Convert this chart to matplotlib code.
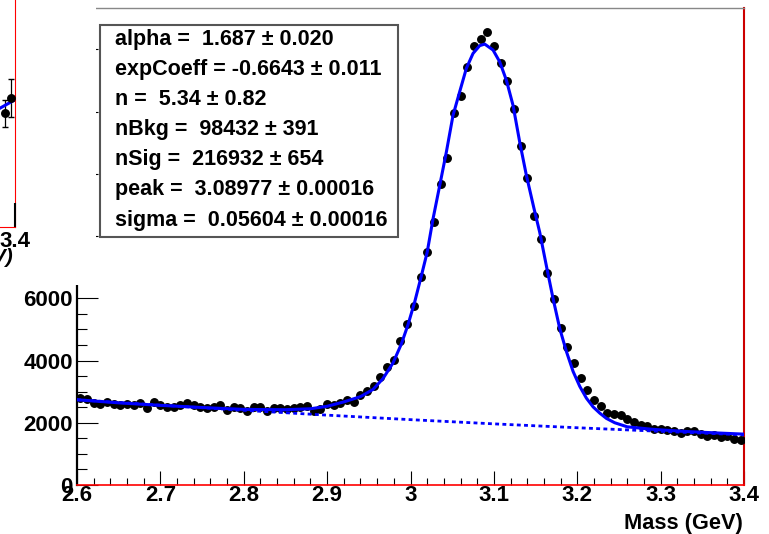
import matplotlib
matplotlib.use("Agg")
import matplotlib.pyplot as plt
from matplotlib.patches import Rectangle
from matplotlib.ticker import MultipleLocator, FixedLocator
import numpy as np

plt.rcParams['font.family'] = ['Liberation Sans', 'DejaVu Sans']
plt.rcParams['font.weight'] = 'bold'

# histogram binning (100 bins, 2.6 - 3.4 GeV)
bin_lo, bin_hi, n_bins = 2.6, 3.4, 100
counts = [
    2780, 2760, 2650, 2600, 2660, 2600, 2580, 2590, 2570, 2640,
    2490, 2660, 2560, 2520, 2500, 2580, 2620, 2570, 2500, 2470,
    2510, 2580, 2420, 2520, 2490, 2380, 2510, 2500, 2390, 2460,
    2480, 2450, 2470, 2500, 2540, 2370, 2450, 2610, 2580, 2620,
    2740, 2660, 2880, 3020, 3170, 3470, 3800, 4010, 4640, 5180,
    5750, 6690, 7480, 8440, 9660, 10510, 11960, 12510, 13420, 14120,
    14330, 14570, 14120, 13550, 12980, 12070, 10880, 9860, 8660, 7900,
    6810, 5990, 5060, 4440, 3930, 3440, 3040, 2740, 2550, 2330,
    2290, 2240, 2130, 2040, 1920, 1900, 1810, 1790, 1760, 1720,
    1680, 1720, 1720, 1650, 1590, 1610, 1530, 1560, 1480, 1460,
]

# total fit curve
fit_x = [2.60, 2.65, 2.70, 2.75, 2.80, 2.85, 2.88, 2.90, 2.92, 2.94,
         2.955, 2.967, 2.979, 2.989, 2.997, 3.005, 3.013, 3.020, 3.027, 3.035,
         3.043, 3.051, 3.059, 3.067, 3.075, 3.083, 3.089, 3.099, 3.107, 3.115,
         3.123, 3.131, 3.139, 3.148, 3.155, 3.163, 3.171, 3.179, 3.187, 3.195,
         3.203, 3.211, 3.219, 3.227, 3.235, 3.245, 3.26, 3.29, 3.33, 3.37, 3.40]
fit_y = [2740, 2640, 2560, 2490, 2430, 2420, 2450, 2530, 2670, 2840,
         3070, 3420, 3920, 4530, 5150, 5880, 6720, 7480, 8550, 9620,
         10700, 11880, 12640, 13390, 13870, 14120, 14170, 13980, 13600, 13010,
         12200, 11020, 9950, 8900, 8120, 7040, 5990, 5030, 4290, 3650,
         3170, 2790, 2510, 2310, 2140, 2000, 1870, 1790, 1720, 1670, 1635]

# background component (dotted)
bkg_x = [2.6, 2.7, 2.8, 2.9, 3.0, 3.1, 3.2, 3.3, 3.4]
bkg_y = [2740, 2565, 2400, 2245, 2100, 1965, 1840, 1725, 1612]

# fit results shown in the box
stat_lines = [
    "alpha =  1.687 \u00b1 0.020",
    "expCoeff = -0.6643 \u00b1 0.011",
    "n =  5.34 \u00b1 0.82",
    "nBkg =  98432 \u00b1 391",
    "nSig =  216932 \u00b1 654",
    "peak =  3.08977 \u00b1 0.00016",
    "sigma =  0.05604 \u00b1 0.00016",
]

# the piece of the neighbouring pad at the top left
inset_x = [3.388, 3.396]
inset_y = [1520, 1720]
inset_err = [180, 247]
inset_line_x = [3.38, 3.40]
inset_line_y = [1575, 1693]

W, H = 769, 534


def fx(px):
    return px / W


def fy(py):
    return 1 - py / H


fig = plt.figure(figsize=(W / 100, H / 100), dpi=100)
fig.patch.set_facecolor('white')

# main pad
ax = fig.add_axes([fx(77), fy(485), fx(744) - fx(77), fy(8) - fy(485)])
centers = bin_lo + (np.arange(n_bins) + 0.5) * (bin_hi - bin_lo) / n_bins
ax.plot(centers, counts, 'o', color='black', markersize=5.4, zorder=3)
ax.plot(fit_x, fit_y, color='#0000ff', lw=2.2, zorder=4)
ax.plot(bkg_x, bkg_y, color='#0000ff', lw=2.0, dashes=(1.4, 1.2), zorder=4)

ax.set_xlim(2.6, 3.4)
ax.set_ylim(0, 15330)
ax.xaxis.set_major_locator(FixedLocator([2.6, 2.7, 2.8, 2.9, 3.0, 3.1, 3.2, 3.3, 3.4]))
ax.set_xticklabels(['2.6', '2.7', '2.8', '2.9', '3', '3.1', '3.2', '3.3', '3.4'])
ax.xaxis.set_minor_locator(MultipleLocator(0.02))
ax.yaxis.set_major_locator(MultipleLocator(2000))
ax.yaxis.set_minor_locator(MultipleLocator(500))
ax.tick_params(axis='x', which='major', direction='in', length=10, width=0.8,
               labelsize=16, pad=0, colors='black')
ax.tick_params(axis='x', which='minor', direction='in', length=5, width=0.8)
ax.tick_params(axis='y', which='major', direction='in', length=15, width=0.8,
               labelsize=16, pad=3)
ax.tick_params(axis='y', which='minor', direction='in', length=7, width=0.8)
for lab in ax.get_xticklabels() + ax.get_yticklabels():
    lab.set_fontweight('bold')

ax.spines['left'].set_color('black')
ax.spines['left'].set_linewidth(1.6)
ax.spines['bottom'].set_color('#ff0000')
ax.spines['bottom'].set_linewidth(1.2)
ax.spines['right'].set_color('#cc0000')
ax.spines['right'].set_linewidth(1.5)
ax.spines['top'].set_color('#888888')
ax.spines['top'].set_linewidth(1.0)

fig.text(fx(743), fy(529), "Mass (GeV)", ha='right', va='baseline',
         fontsize=15.7, fontweight='bold')

# white area of the neighbouring pad covering the top left corner
fig.patches.append(Rectangle((0, fy(285)), fx(96), 1 - fy(285),
                             transform=fig.transFigure, facecolor='white',
                             edgecolor='none', zorder=1))

# neighbouring pad, only its right edge is visible
ins = fig.add_axes([fx(14.5 - 630), fy(227), fx(630), fx(300) * W / H], zorder=2)
ins.patch.set_alpha(0)
ins.errorbar(inset_x, inset_y, yerr=inset_err, fmt='o', color='black',
             markersize=5.4, elinewidth=0.9, capsize=2.5)
ins.plot(inset_line_x, inset_line_y, color='#0000ff', lw=2.2)
ins.set_xlim(2.6, 3.4)
ins.set_ylim(0, 4000)
ins.xaxis.set_major_locator(FixedLocator([3.4]))
ins.set_xticklabels(['3.4'])
ins.set_yticks([])
ins.tick_params(axis='x', direction='in', length=17, width=1.5, labelsize=16, pad=3)
for lab in ins.get_xticklabels():
    lab.set_fontweight('bold')
ins.spines['right'].set_color('#ff0000')
ins.spines['bottom'].set_color('#ff0000')
ins.spines['right'].set_zorder(1)
ins.spines['left'].set_visible(False)
ins.spines['top'].set_visible(False)
fig.text(fx(13), fy(263), "Mass (GeV)", ha='right', va='baseline',
         fontsize=15, fontweight='bold', style='italic', zorder=3)

# fit parameter box
fig.patches.append(Rectangle((fx(100), fy(237)), fx(398) - fx(100), fy(25) - fy(237),
                             transform=fig.transFigure, facecolor='white',
                             edgecolor='#555555', linewidth=1.5, zorder=5))
for k, line in enumerate(stat_lines):
    fig.text(fx(115), fy(39 + k * 30.2), line, ha='left', va='center',
             fontsize=15.5, fontweight='bold', zorder=6)

fig.savefig("out.png", dpi=100)
